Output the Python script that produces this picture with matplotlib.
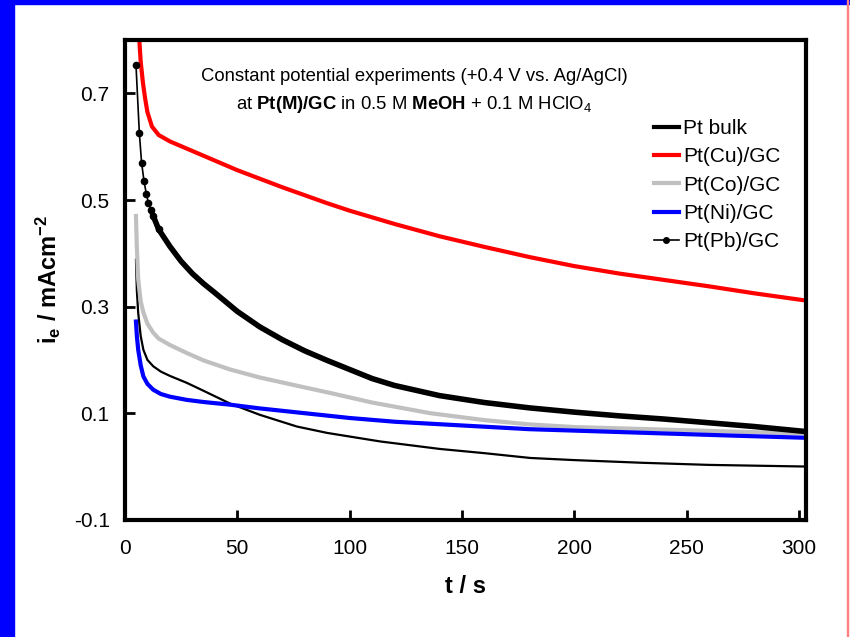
import numpy as np
import matplotlib
matplotlib.use('Agg')
import matplotlib.pyplot as plt
from matplotlib.patches import Rectangle
from matplotlib.lines import Line2D

plt.rcParams['font.family'] = ['Liberation Sans', 'DejaVu Sans']
plt.rcParams['mathtext.fontset'] = 'custom'
plt.rcParams['mathtext.rm'] = 'Liberation Sans'
plt.rcParams['mathtext.bf'] = 'Liberation Sans:bold'
plt.rcParams['mathtext.it'] = 'Liberation Sans:italic'

# values (t in s, i_e in mA cm^-2)
t_cu = [6.4, 7, 8, 9, 10, 12, 15, 20, 30, 40, 50, 60, 70, 80, 90, 100, 120, 140, 160, 180,
        200, 220, 240, 260, 280, 302]
i_cu = [0.80, 0.76, 0.72, 0.69, 0.665, 0.638, 0.622, 0.610, 0.592, 0.574, 0.556, 0.540, 0.524,
        0.509, 0.494, 0.480, 0.455, 0.432, 0.412, 0.393, 0.376, 0.362, 0.350, 0.338, 0.325, 0.312]

t_pb = [4.9, 6.4, 7.4, 8.5, 9.5, 10.4, 11.5, 12.6, 15, 20, 25, 30, 35, 40, 50, 60, 70, 80,
        90, 100, 110, 120, 140, 160, 180, 200, 220, 240, 260, 280, 302]
i_pb = [0.754, 0.626, 0.570, 0.535, 0.512, 0.495, 0.482, 0.470, 0.445, 0.413, 0.385, 0.362,
        0.343, 0.326, 0.291, 0.262, 0.238, 0.217, 0.199, 0.182, 0.165, 0.152, 0.133, 0.120, 0.110,
        0.102, 0.095, 0.089, 0.082, 0.075, 0.066]

t_co = [4.9, 5.3, 5.9, 7, 8.2, 10, 12.6, 15, 20, 27.5, 35, 46.8, 60, 75, 91.3, 110, 135.9, 160,
        180, 200, 225, 250, 275, 302]
i_co = [0.470, 0.41, 0.351, 0.31, 0.289, 0.268, 0.251, 0.240, 0.228, 0.213, 0.199, 0.182, 0.167,
        0.153, 0.138, 0.120, 0.100, 0.087, 0.079, 0.074, 0.071, 0.068, 0.065, 0.062]

t_ni = [4.9, 5.3, 5.9, 7, 8.2, 10, 12.6, 16, 20, 27.5, 35, 46.8, 60, 80, 100, 120, 150, 180, 210,
        240, 270, 302]
i_ni = [0.272, 0.245, 0.219, 0.19, 0.169, 0.155, 0.144, 0.136, 0.131, 0.125, 0.121, 0.116, 0.109,
        0.100, 0.091, 0.084, 0.077, 0.070, 0.066, 0.062, 0.058, 0.054]

t_bulk = [4.9, 5.3, 5.9, 7, 8.2, 10, 12.6, 16, 20, 27.5, 35, 46.8, 60, 76.5, 90, 113.6, 140, 160,
          180.4, 200, 230, 260, 302]
i_bulk = [0.388, 0.33, 0.288, 0.245, 0.219, 0.200, 0.188, 0.178, 0.170, 0.157, 0.142, 0.118, 0.097,
          0.075, 0.063, 0.047, 0.033, 0.025, 0.016, 0.012, 0.007, 0.003, 0.000]

fig = plt.figure(figsize=(8.5, 6.37), dpi=100)
ax = fig.add_axes([0.147, 0.184, 0.801, 0.753])

ax.plot(t_bulk, i_bulk, '-', color='black', lw=1.6)
ax.plot(t_cu, i_cu, '-', color='#ff0000', lw=3)
ax.plot(t_co, i_co, '-', color='#c0c0c0', lw=3)
ax.plot(t_ni, i_ni, '-', color='#0000ff', lw=3)
ax.plot(t_pb[:9], i_pb[:9], '-', color='black', lw=1.2, marker='o', ms=4.5)
# dense markers merge into a thick line after the first seconds
ax.plot(t_pb[7:], i_pb[7:], '-', color='black', lw=4)

ax.set_xlim(0, 303)
ax.set_ylim(-0.1, 0.8)
ax.set_xticks([0, 50, 100, 150, 200, 250, 300])
ax.set_yticks([-0.1, 0.1, 0.3, 0.5, 0.7])
ax.set_yticklabels(['-0.1', '0.1', '0.3', '0.5', '0.7'])
ax.tick_params(direction='in', length=7, width=2, labelsize=15, pad=11)
ax.tick_params(axis='x', pad=14)
for s in ax.spines.values():
    s.set_linewidth(3)

ax.set_xlabel('t / s', fontsize=17, fontweight='bold', labelpad=12)
ax.set_ylabel(r'i$_\mathbf{e}$ / mAcm$^\mathbf{-2}$', fontsize=17, fontweight='bold', labelpad=8)

ax.text(0.425, 0.925, 'Constant potential experiments (+0.4 V vs. Ag/AgCl)',
        transform=ax.transAxes, ha='center', va='center', fontsize=13.3)
ax.text(0.425, 0.865, r'at $\mathbf{Pt(M)/GC}$ in 0.5 M $\mathbf{MeOH}$ + 0.1 M HClO$_4$',
        transform=ax.transAxes, ha='center', va='center', fontsize=13.3)

handles = [Line2D([], [], color='black', lw=3),
           Line2D([], [], color='#ff0000', lw=3),
           Line2D([], [], color='#c0c0c0', lw=3),
           Line2D([], [], color='#0000ff', lw=3),
           Line2D([], [], color='black', lw=1.2, marker='o', ms=4)]
labels = ['Pt bulk', 'Pt(Cu)/GC', 'Pt(Co)/GC', 'Pt(Ni)/GC', 'Pt(Pb)/GC']
ax.legend(handles, labels, loc='upper right', bbox_to_anchor=(0.99, 0.875), frameon=False,
          fontsize=15, handlelength=1.2, handletextpad=0.2, labelspacing=0.45)

# slide frame
fig.patches.append(Rectangle((0, 0), 14 / 850, 1, transform=fig.transFigure, color='#0000ff', zorder=0))
fig.patches.append(Rectangle((0, 1 - 4 / 637), 1, 4 / 637, transform=fig.transFigure, color='#0000ff', zorder=0))
fig.patches.append(Rectangle((847 / 850, 0), 1 / 850, 1, transform=fig.transFigure, color='#ff8080', zorder=0))

plt.savefig('out.png', dpi=100)
